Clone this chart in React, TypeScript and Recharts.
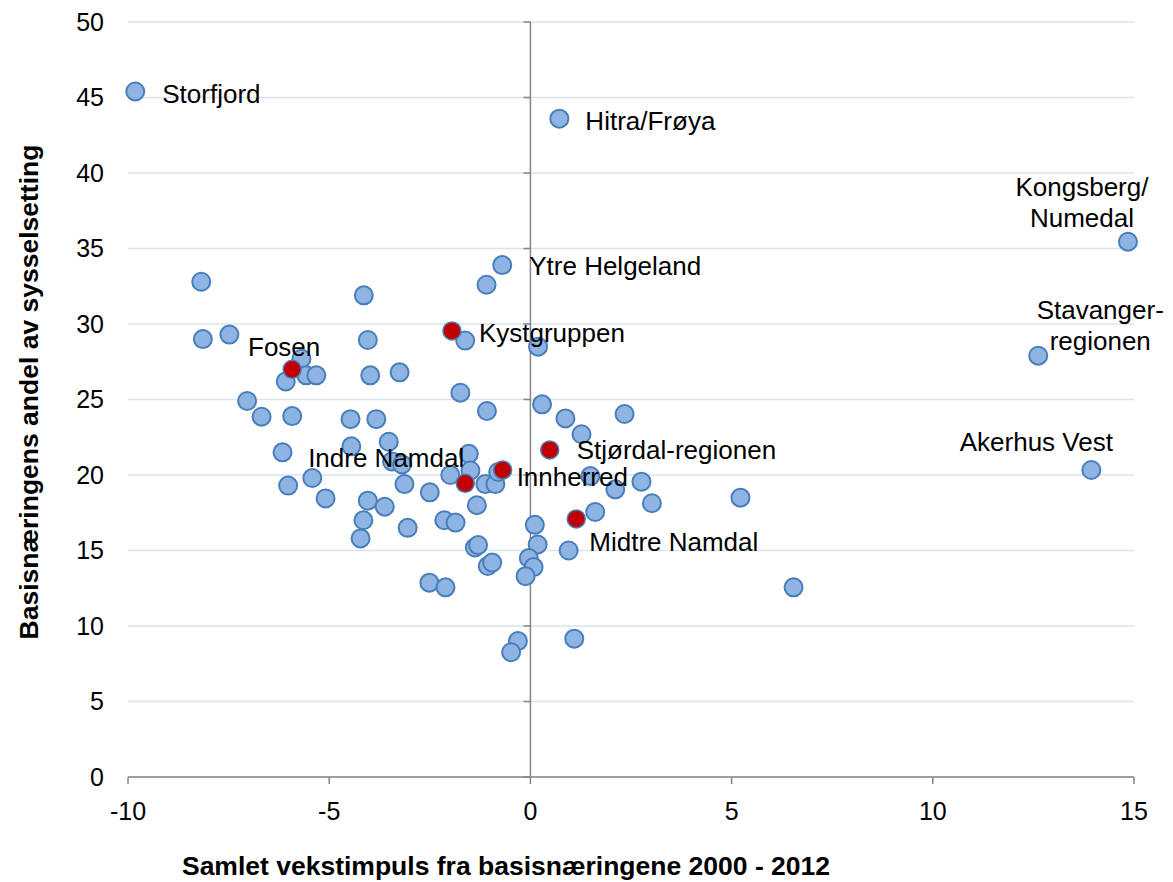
import React from "react";
import {
  ScatterChart,
  Scatter,
  XAxis,
  YAxis,
  CartesianGrid,
  ReferenceLine,
} from "recharts";

// regions that carry a name label (blue markers)
const namedRegions = [
  "Storfjord",
  "Hitra/Frøya",
  "Kongsberg/\nNumedal",
  "Stavanger-\nregionen",
  "Akerhus Vest",
  "Ytre Helgeland",
];
const namedX = [-9.82, 0.72, 14.85, 12.62, 13.94, -0.7];
const namedY = [45.4, 43.6, 35.45, 27.9, 20.33, 33.9];

// Trøndelag regions (red markers)
const trondelagRegions = [
  "Fosen",
  "Kystgruppen",
  "Stjørdal-regionen",
  "Innherred",
  "Indre Namdal",
  "Midtre Namdal",
];
const trondelagX = [-5.92, -1.95, 0.48, -0.69, -1.62, 1.14];
const trondelagY = [27.0, 29.54, 21.66, 20.33, 19.45, 17.09];

// all other regions, unlabeled
const otherX = [
  -8.18, -8.14, -7.48, -4.14, -4.04, -1.09, -1.62, 0.19, -5.69, -6.08,
  -5.57, -5.32, -3.98, -3.25, -1.74, -1.08, -7.04, -6.68, -5.92, -4.47,
  -3.83, 0.29, 0.87, 1.27, 2.34, -3.52, -4.45, -6.16, -3.44, -3.19,
  -1.53, -1.49, -1.99, -1.12, -0.87, -0.8, -6.02, -5.42, -5.09, -4.04,
  -3.62, -4.15, -4.22, -3.13, -2.5, -1.33, -2.14, -1.86, -3.05, -1.38,
  -1.3, -1.06, -0.95, -2.51, -2.11, -0.31, -0.48, 0.11, 0.18, -0.04,
  0.08, -0.12, 0.95, 1.61, 1.09, 1.49, 2.11, 2.76, 3.02, 5.22, 6.54,
];
const otherY = [
  32.8, 29.0, 29.3, 31.9, 28.94, 32.6, 28.9, 28.5, 27.7, 26.2,
  26.6, 26.6, 26.6, 26.8, 25.45, 24.24, 24.9, 23.86, 23.9, 23.7,
  23.7, 24.68, 23.75, 22.7, 24.04, 22.2, 21.9, 21.5, 20.9, 20.7,
  21.4, 20.3, 20.0, 19.4, 19.4, 20.2, 19.3, 19.8, 18.45, 18.3,
  17.9, 17.0, 15.8, 19.4, 18.85, 18.0, 17.0, 16.85, 16.5, 15.2,
  15.36, 13.97, 14.2, 12.87, 12.56, 9.0, 8.26, 16.7, 15.4, 14.5,
  13.9, 13.3, 15.0, 17.55, 9.16, 19.93, 19.05, 19.56, 18.13, 18.5, 12.56,
];

const xTicks = [-10, -5, 0, 5, 10, 15];
const yTicks = [0, 5, 10, 15, 20, 25, 30, 35, 40, 45, 50];

const xTitle = "Samlet vekstimpuls fra basisnæringene 2000 - 2012";
const yTitle = "Basisnæringens andel av sysselsetting";

const otherData = otherX.map((x, i) => ({ x, y: otherY[i] }));
const namedData = namedRegions.map((name, i) => ({ name, x: namedX[i], y: namedY[i] }));
const trondelagData = trondelagRegions.map((name, i) => ({
  name,
  x: trondelagX[i],
  y: trondelagY[i],
}));

const FONT = "'Liberation Sans', Arial, sans-serif";
const BLUE_FILL = "#8DB4E2";
const BLUE_EDGE = "#4A7EBB";
const RED_FILL = "#C00000";
const AXIS = "#868686";

// label offsets from the marker centre, in px
const labelPlacement: Record<string, { dx: number; dy: number; anchor: "start" | "middle" | "end" }> = {
  Storfjord: { dx: 27, dy: 2, anchor: "start" },
  "Hitra/Frøya": { dx: 26, dy: 2, anchor: "start" },
  "Kongsberg/\nNumedal": { dx: -46, dy: -55, anchor: "middle" },
  "Stavanger-\nregionen": { dx: 62, dy: -46, anchor: "middle" },
  "Akerhus Vest": { dx: -55, dy: -28, anchor: "middle" },
  "Ytre Helgeland": { dx: 27, dy: 1, anchor: "start" },
  Fosen: { dx: -8, dy: -22, anchor: "middle" },
  Kystgruppen: { dx: 27, dy: 2, anchor: "start" },
  "Stjørdal-regionen": { dx: 27, dy: 0, anchor: "start" },
  Innherred: { dx: 14, dy: 7, anchor: "start" },
  "Indre Namdal": { dx: -1, dy: -25, anchor: "end" },
  "Midtre Namdal": { dx: 13, dy: 23, anchor: "start" },
};

const makeDot = (fill: string, strokeWidth: number) => (props: any) => {
  const { cx, cy, payload } = props;
  const place = payload && payload.name ? labelPlacement[payload.name] : undefined;
  const lines: string[] = place ? String(payload.name).split("\n") : [];
  return (
    <g>
      <circle cx={cx} cy={cy} r={9} fill={fill} stroke={BLUE_EDGE} strokeWidth={strokeWidth} />
      {place &&
        lines.map((line, i) => (
          <text
            key={i}
            x={cx + place.dx}
            y={cy + place.dy + i * 31}
            dy="0.35em"
            textAnchor={place.anchor}
            fontFamily={FONT}
            fontSize={26}
            fill="#000"
          >
            {line}
          </text>
        ))}
    </g>
  );
};

// vertical axis that crosses at x = 0, with small ticks to the left
const CrossingAxis = (props: any) => {
  const { x1, y1, x2, y2 } = props;
  const top = Math.min(y1, y2);
  const bottom = Math.max(y1, y2);
  const steps = yTicks.length - 1;
  return (
    <g>
      <line x1={x1} y1={top} x2={x2} y2={bottom} stroke={AXIS} strokeWidth={1.5} />
      {yTicks.map((t, i) => {
        const yy = bottom - ((bottom - top) * i) / steps;
        return <line key={t} x1={x1 - 7} y1={yy} x2={x1} y2={yy} stroke={AXIS} strokeWidth={1.5} />;
      })}
    </g>
  );
};

export default function App() {
  return (
    <div style={{ position: "absolute", left: 0, top: 0, background: "#fff" }}>
      <ScatterChart
        width={1173}
        height={882}
        margin={{ top: 22, right: 39, bottom: 45, left: 28 }}
      >
        <CartesianGrid vertical={false} stroke="#D9E3F1" strokeWidth={1.5} />
        <XAxis
          type="number"
          dataKey="x"
          domain={[-10, 15]}
          ticks={xTicks}
          height={60}
          stroke={AXIS}
          strokeWidth={1.5}
          tickSize={7}
          tickMargin={18}
          tick={{ fill: "#000", fontSize: 25, fontFamily: FONT }}
          label={{
            content: () => (
              <text
                x={506}
                y={866}
                dy="0.35em"
                textAnchor="middle"
                fontFamily={FONT}
                fontWeight="bold"
                fontSize={26.5}
                fill="#000"
              >
                {xTitle}
              </text>
            ),
          }}
        />
        <YAxis
          type="number"
          dataKey="y"
          domain={[0, 50]}
          ticks={yTicks}
          width={100}
          axisLine={false}
          tickLine={false}
          tickSize={0}
          tickMargin={24}
          tick={{ fill: "#000", fontSize: 25, fontFamily: FONT }}
          label={{
            content: () => (
              <text
                x={29}
                y={392}
                dy="0.35em"
                transform="rotate(-90 29 392)"
                textAnchor="middle"
                fontFamily={FONT}
                fontWeight="bold"
                fontSize={26.5}
                fill="#000"
              >
                {yTitle}
              </text>
            ),
          }}
        />
        <ReferenceLine x={0} shape={CrossingAxis} />
        <Scatter data={otherData} shape={makeDot(BLUE_FILL, 2)} isAnimationActive={false} />
        <Scatter data={namedData} shape={makeDot(BLUE_FILL, 2)} isAnimationActive={false} />
        <Scatter data={trondelagData} shape={makeDot(RED_FILL, 1.5)} isAnimationActive={false} />
      </ScatterChart>
    </div>
  );
}
